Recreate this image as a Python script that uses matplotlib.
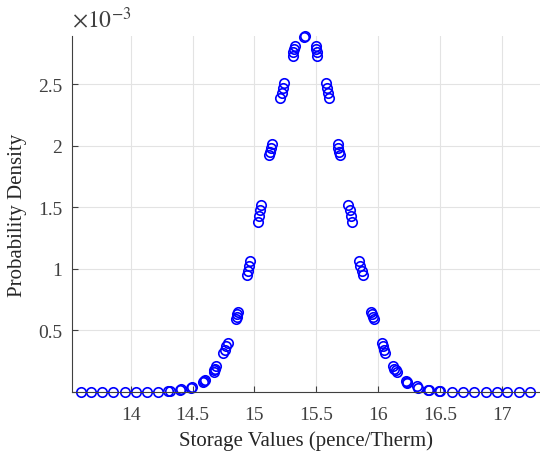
import matplotlib
matplotlib.use("Agg")
import matplotlib.pyplot as plt

# storage values (pence/therm) and density (in units of 1e-3)
storage_values = [
    13.595, 13.68, 13.77, 13.86, 13.95, 14.04, 14.13, 14.22,
    14.305, 14.315, 14.395, 14.405, 14.485, 14.495,
    14.585, 14.592, 14.598,
    14.670, 14.677, 14.683, 14.690,
    14.750, 14.762, 14.773, 14.785,
    14.850, 14.857, 14.863, 14.870,
    14.940, 14.948, 14.957, 14.965,
    15.030, 15.037, 15.043, 15.050,
    15.120, 15.127, 15.133, 15.140,
    15.210, 15.220, 15.230, 15.240,
    15.310, 15.315, 15.320, 15.325,
    15.405, 15.412,
    15.495, 15.500, 15.505, 15.510,
    15.580, 15.587, 15.593, 15.600,
    15.675, 15.680, 15.685, 15.690,
    15.760, 15.770, 15.780, 15.790,
    15.850, 15.858, 15.867, 15.875,
    15.940, 15.950, 15.960, 15.970,
    16.030, 16.040, 16.050, 16.060,
    16.125, 16.133, 16.142, 16.150,
    16.225, 16.232, 16.238,
    16.315, 16.325, 16.405, 16.415, 16.495, 16.505,
    16.60, 16.69, 16.78, 16.87, 16.96, 17.04, 17.14, 17.23,
]
density_e3 = [
    0.0, 0.0, 0.0, 0.0, 0.0001, 0.0003, 0.001, 0.003,
    0.007, 0.009, 0.016, 0.021, 0.035, 0.043,
    0.080, 0.090, 0.100,
    0.160, 0.175, 0.190, 0.210,
    0.320, 0.345, 0.370, 0.400,
    0.590, 0.610, 0.630, 0.650,
    0.950, 0.985, 1.020, 1.060,
    1.380, 1.430, 1.475, 1.520,
    1.920, 1.950, 1.980, 2.010,
    2.390, 2.430, 2.470, 2.510,
    2.730, 2.760, 2.785, 2.810,
    2.885, 2.890,
    2.810, 2.785, 2.760, 2.730,
    2.510, 2.470, 2.430, 2.390,
    2.010, 1.980, 1.950, 1.920,
    1.520, 1.475, 1.430, 1.380,
    1.060, 1.020, 0.985, 0.950,
    0.650, 0.630, 0.610, 0.590,
    0.400, 0.370, 0.345, 0.320,
    0.210, 0.190, 0.175, 0.160,
    0.090, 0.082, 0.075,
    0.045, 0.035, 0.020, 0.016, 0.009, 0.007,
    0.003, 0.001, 0.0003, 0.0001, 0.0, 0.0, 0.0, 0.0,
]

xticks = [14, 14.5, 15, 15.5, 16, 16.5, 17]
xtick_labels = ["14", "14.5", "15", "15.5", "16", "16.5", "17"]
yticks = [0, 0.5, 1, 1.5, 2, 2.5]
ytick_labels = ["", "0.5", "1", "1.5", "2", "2.5"]

plt.rcParams["font.family"] = ["Liberation Serif", "DejaVu Serif"]
plt.rcParams["mathtext.fontset"] = "stix"

fig = plt.figure(figsize=(5.4, 4.56), dpi=100)
ax = fig.add_axes([72 / 540, 1 - 393 / 456, 1 - 72 / 540, (393 - 37) / 456])

ax.plot(storage_values, density_e3, linestyle="none",
        marker="o", markersize=6.8, markerfacecolor="none",
        markeredgecolor="#0000ff", markeredgewidth=1.2, clip_on=False)

ax.set_xlim(13.525, 17.31)
ax.set_ylim(0, 2.89)
ax.set_xticks(xticks)
ax.set_xticklabels(xtick_labels)
ax.set_yticks(yticks)
ax.set_yticklabels(ytick_labels)

# exponent shown above the y axis, MATLAB style
ax.text(0.0, 1.012, r"$\times10^{-3}$", transform=ax.transAxes, fontsize=17,
        color="#404040", ha="left", va="bottom")

ax.grid(True, color="#e3e3e3", linewidth=0.8)
ax.set_axisbelow(True)
for side in ["top", "right"]:
    ax.spines[side].set_visible(False)
for side in ["left", "bottom"]:
    ax.spines[side].set_color("#404040")
    ax.spines[side].set_linewidth(0.8)

ax.tick_params(direction="in", length=4, width=0.8, colors="#404040",
               labelsize=14, labelcolor="#404040")
ax.tick_params(axis="x", pad=10)
ax.tick_params(axis="y", pad=7)

ax.set_xlabel("Storage Values (pence/Therm)", fontsize=15, color="#262626", labelpad=5)
ax.set_ylabel("Probability Density", fontsize=15, color="#262626", labelpad=8)

fig.savefig("out.png", dpi=100)
